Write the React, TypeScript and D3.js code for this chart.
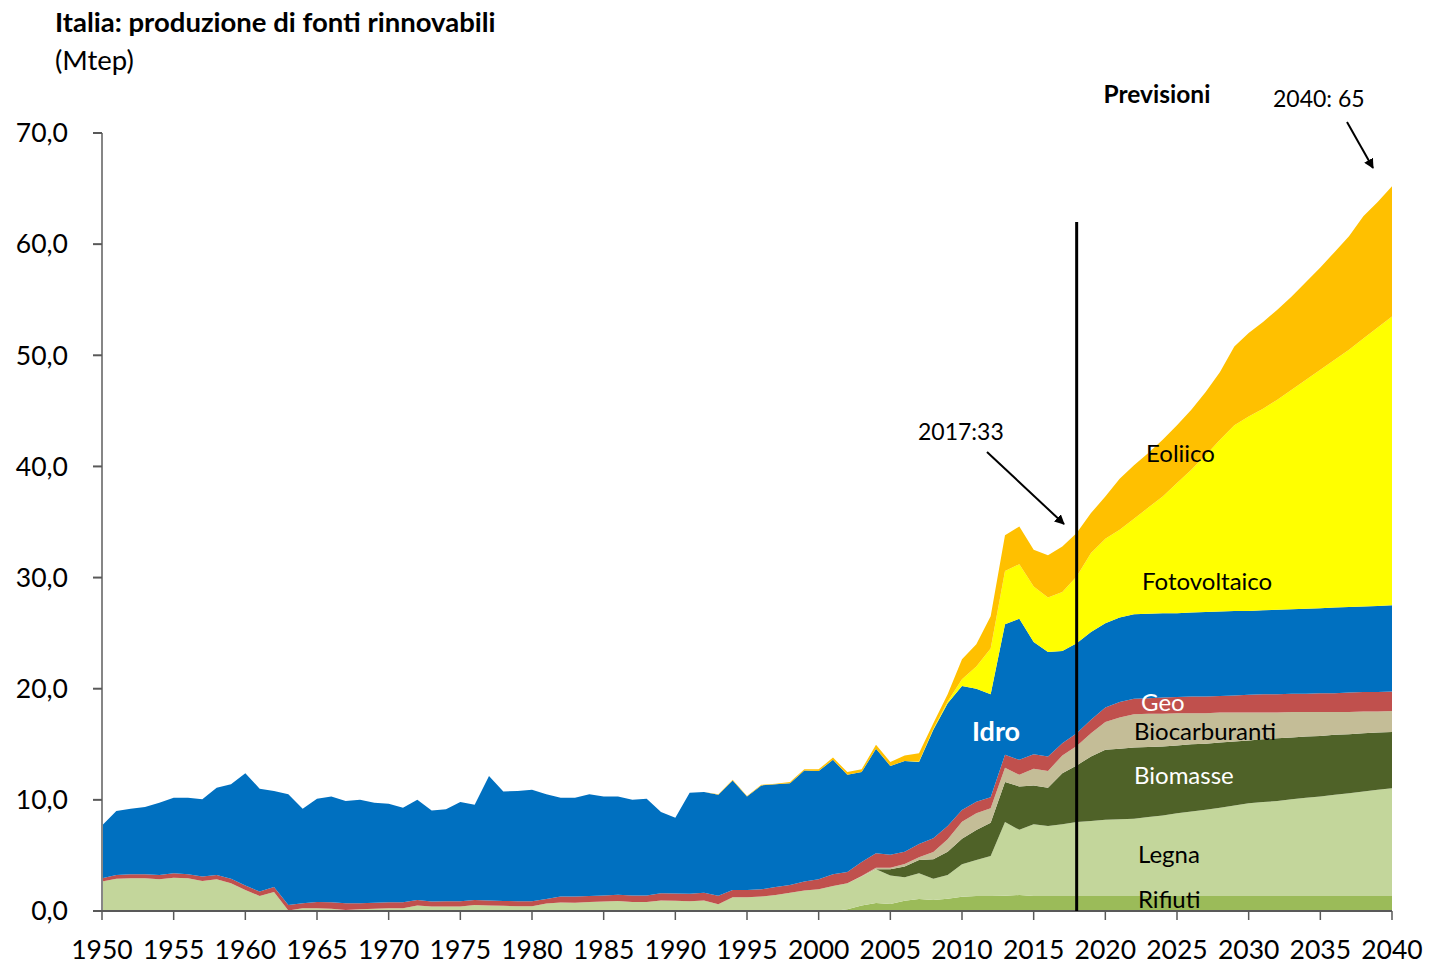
import React from "react";
import * as d3 from "d3";

const startYear = 1950;
const endYear = 2040;
const years: number[] = d3.range(startYear, endYear + 1);

// Series values (Mtep), 1950..2040
const rifiuti = [
  0,0,0,0,0,0,0,0,0,0, 0,0,0,0,0,0,0,0,0,0,
  0,0,0,0,0,0,0,0,0,0, 0,0,0,0,0,0,0,0,0,0,
  0,0,0,0,0,0,0,0,0,0, 0,0,0.15,0.5,0.72,0.63,0.93,1.08,1.0,1.1,
  1.29,1.35,1.35,1.38,1.44,1.35,1.35,1.35,1.35,1.35,
  1.35,1.35,1.35,1.35,1.35,1.35,1.35,1.35,1.35,1.35,
  1.35,1.35,1.35,1.35,1.35,1.35,1.35,1.35,1.35,1.35,1.35,
];
const legna = [
  2.65,2.9,2.95,2.95,2.85,3.0,2.95,2.7,2.85,2.5,
  1.9,1.35,1.7,0.05,0.25,0.25,0.2,0.1,0.15,0.2,
  0.25,0.25,0.5,0.4,0.4,0.4,0.55,0.5,0.48,0.42,
  0.42,0.68,0.77,0.75,0.8,0.86,0.9,0.8,0.8,0.95,
  0.92,0.87,0.95,0.6,1.23,1.23,1.3,1.45,1.65,1.85,
  1.95,2.25,2.35,2.6,3.03,2.57,2.1,2.31,1.91,2.14,
  2.91,3.24,3.6,6.62,5.86,6.45,6.3,6.45,6.65,6.75,
  6.85,6.9,6.95,7.1,7.25,7.45,7.6,7.75,7.95,8.15,
  8.35,8.45,8.55,8.7,8.85,8.95,9.1,9.25,9.4,9.55,9.7,
];
const biomasse = [
  0,0,0,0,0,0,0,0,0,0, 0,0,0,0,0,0,0,0,0,0,
  0,0,0,0,0,0,0,0,0,0, 0,0,0,0,0,0,0,0,0,0,
  0,0,0,0,0,0,0,0,0,0, 0,0,0,0,0,0.55,0.97,1.2,1.74,2.1,
  2.3,2.7,3.0,3.6,3.9,3.5,3.45,4.6,5.1,5.8,
  6.3,6.35,6.4,6.3,6.2,6.1,6.05,5.95,5.85,5.75,
  5.65,5.65,5.65,5.55,5.5,5.45,5.4,5.3,5.25,5.15,5.05,
];
const biocarburanti = [
  0,0,0,0,0,0,0,0,0,0, 0,0,0,0,0,0,0,0,0,0,
  0,0,0,0,0,0,0,0,0,0, 0,0,0,0,0,0,0,0,0,0,
  0,0,0,0,0,0,0,0,0,0, 0,0,0,0.05,0.15,0.15,0.23,0.24,0.66,1.11,
  1.54,1.5,1.29,1.3,1.05,1.5,1.5,1.6,1.75,2.1,
  2.5,2.8,3.0,3.0,2.95,2.9,2.8,2.75,2.7,2.6,
  2.5,2.4,2.3,2.3,2.2,2.15,2.05,2.0,1.95,1.9,1.9,
];
const geo = [
  0.3,0.35,0.35,0.35,0.4,0.4,0.35,0.4,0.4,0.4,
  0.4,0.4,0.45,0.5,0.45,0.55,0.58,0.6,0.55,0.55,
  0.53,0.53,0.5,0.45,0.48,0.48,0.45,0.45,0.42,0.46,
  0.46,0.4,0.53,0.55,0.55,0.54,0.57,0.6,0.6,0.65,
  0.65,0.68,0.7,0.78,0.67,0.67,0.65,0.7,0.7,0.8,
  0.9,1.05,1.0,1.25,1.3,1.15,1.11,1.2,1.23,1.2,
  1.05,1.05,1.0,1.15,1.35,1.3,1.3,1.1,1.15,1.2,
  1.3,1.4,1.4,1.4,1.45,1.45,1.5,1.5,1.5,1.55,
  1.6,1.65,1.65,1.65,1.65,1.7,1.7,1.75,1.75,1.75,1.75,
];
const idro = [
  4.75,5.75,5.9,6.05,6.5,6.8,6.9,6.95,7.85,8.5,
  10.1,9.25,8.65,9.95,8.5,9.3,9.52,9.2,9.3,9.0,
  8.87,8.52,9.0,8.2,8.27,8.92,8.55,11.2,9.85,9.92,
  10.02,9.42,8.9,8.9,9.15,8.9,8.83,8.6,8.7,7.3,
  6.83,9.1,9.05,9.07,9.85,8.4,9.35,9.25,9.15,10.0,
  9.75,10.3,8.75,8.1,9.4,8.0,8.16,7.37,9.76,11.05,
  11.16,10.16,9.27,11.75,12.7,10.1,9.4,8.3,8.1,7.9,
  7.6,7.6,7.6,7.6,7.6,7.55,7.55,7.6,7.6,7.6,
  7.55,7.55,7.6,7.6,7.65,7.65,7.7,7.7,7.7,7.75,7.75,
];
const fotovoltaico = [
  0,0,0,0,0,0,0,0,0,0, 0,0,0,0,0,0,0,0,0,0,
  0,0,0,0,0,0,0,0,0,0, 0,0,0,0,0,0,0,0,0,0,
  0,0,0,0,0,0,0,0,0,0, 0,0,0,0,0,0,0,0.05,0.1,0.15,
  0.6,2.0,4.1,4.8,4.9,5.0,4.9,5.3,6.0,7.1,
  7.6,7.9,8.6,9.55,10.5,11.7,12.85,14.1,15.45,16.7,
  17.5,18.15,18.9,19.75,20.6,21.45,22.3,23.15,24.1,25.05,26.0,
];
const eolico = [
  0,0,0,0,0,0,0,0,0,0, 0,0,0,0,0,0,0,0,0,0,
  0,0,0,0,0,0,0,0,0,0, 0,0,0,0,0,0,0,0,0,0,
  0,0,0,0.05,0.05,0.05,0.05,0.05,0.1,0.1,
  0.15,0.2,0.25,0.25,0.35,0.35,0.5,0.75,0.5,0.65,
  1.8,2.0,2.9,3.2,3.4,3.3,3.8,4.1,3.9,3.6,
  3.8,4.6,4.8,4.9,5.1,5.2,5.4,5.7,6.1,7.1,
  7.5,7.8,8.1,8.4,8.8,9.2,9.7,10.2,11.0,11.3,11.7,
];

const seriesKeys = ["rifiuti","legna","biomasse","biocarburanti","geo","idro","fotovoltaico","eolico"];
const seriesValues: Record<string, number[]> = { rifiuti, legna, biomasse, biocarburanti, geo, idro, fotovoltaico, eolico };
const seriesColors: Record<string, string> = {
  rifiuti: "#9bbb59",
  legna: "#c3d69b",
  biomasse: "#4f6228",
  biocarburanti: "#c4bd97",
  geo: "#c0504d",
  idro: "#0070c0",
  fotovoltaico: "#ffff00",
  eolico: "#ffc000",
};

const yTicks = [0, 10, 20, 30, 40, 50, 60, 70];
const xTicks = d3.range(1950, 2041, 5);
const forecastYear = 2018;

const FONT = "Lato, 'Open Sans', sans-serif";

export default function App() {
  const W = 1429, H = 965;
  const x = d3.scaleLinear().domain([startYear, endYear]).range([102, 1392]);
  const y = d3.scaleLinear().domain([0, 70]).range([911, 133]);

  const table = years.map((yr, i) => {
    const row: any = { year: yr };
    seriesKeys.forEach((k) => (row[k] = seriesValues[k][i]));
    return row;
  });
  const stacked = d3.stack<any>().keys(seriesKeys)(table);
  const area = d3
    .area<any>()
    .x((d) => x(d.data.year))
    .y0((d) => y(d[0]))
    .y1((d) => y(d[1]));

  const fmt = (v: number) => v.toFixed(1).replace(".", ",");

  return (
    <svg width={W} height={H} style={{ position: "absolute", left: 0, top: 0, background: "#fff" }} fontFamily={FONT}>
      <defs>
        <marker id="arr" viewBox="0 0 10 10" refX="9" refY="5" markerWidth="5" markerHeight="5" orient="auto">
          <path d="M0,0 L10,5 L0,10 z" fill="#000" />
        </marker>
      </defs>
      <text x={55} y={32} fontSize={27.5} fontWeight={700} fill="#000">Italia: produzione di fonti rinnovabili</text>
      <text x={55} y={70} fontSize={27.5} fill="#000">(Mtep)</text>

      {stacked.map((s) => (
        <path key={s.key} d={area(s) || ""} fill={seriesColors[s.key]} stroke="none" />
      ))}

      {/* y axis */}
      <line x1={102} x2={102} y1={y(70)} y2={y(0)} stroke="#868686" strokeWidth={2} />
      {yTicks.map((t) => (
        <g key={t}>
          <line x1={93} x2={102} y1={y(t)} y2={y(t)} stroke="#595959" strokeWidth={2} />
          <text x={68} y={y(t)} dy="0.35em" textAnchor="end" fontSize={26.5} fill="#000">{fmt(t)}</text>
        </g>
      ))}
      {/* x axis */}
      <line x1={102} x2={1392} y1={y(0)} y2={y(0)} stroke="#595959" strokeWidth={2} />
      {xTicks.map((t) => (
        <g key={t}>
          <line x1={x(t)} x2={x(t)} y1={y(0)} y2={y(0) + 9} stroke="#595959" strokeWidth={1.5} />
          <text x={x(t)} y={959} textAnchor="middle" fontSize={26.5} fill="#000">{t}</text>
        </g>
      ))}

      {/* forecast line */}
      <line x1={x(forecastYear)} x2={x(forecastYear)} y1={y(0)} y2={y(62)} stroke="#000" strokeWidth={3} />

      {/* annotations */}
      <text x={1157} y={103} textAnchor="middle" fontSize={24.5} fontWeight={700} fill="#000">Previsioni</text>
      <text x={1273} y={107} fontSize={23} fill="#000">2040: 65</text>
      <line x1={1347} y1={122} x2={1373} y2={168} stroke="#000" strokeWidth={2} markerEnd="url(#arr)" />
      <text x={918} y={440} fontSize={23} fill="#000">2017:33</text>
      <line x1={987} y1={452} x2={1064} y2={524} stroke="#000" strokeWidth={2} markerEnd="url(#arr)" />

      {/* series labels */}
      <text x={1146} y={462} fontSize={24} fill="#000">Eoliico</text>
      <text x={1142} y={590} fontSize={24} fill="#000">Fotovoltaico</text>
      <text x={972} y={741} fontSize={27} fontWeight={700} fill="#fff">Idro</text>
      <text x={1141} y={711} fontSize={24} fill="#fff">Geo</text>
      <text x={1134} y={740} fontSize={24} fill="#000">Biocarburanti</text>
      <text x={1134} y={784} fontSize={24} fill="#fff">Biomasse</text>
      <text x={1138} y={863} fontSize={24} fill="#000">Legna</text>
      <text x={1138} y={908} fontSize={24} fill="#000">Rifiuti</text>
    </svg>
  );
}
